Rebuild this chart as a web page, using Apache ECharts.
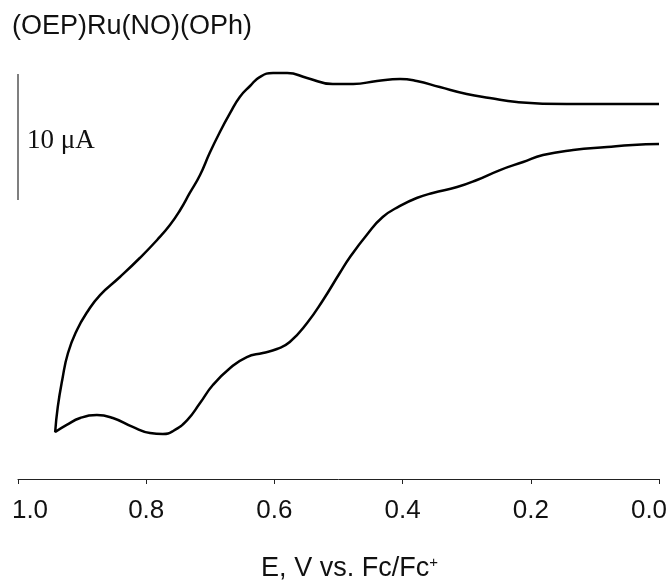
<!DOCTYPE html>
<html>
<head>
<meta charset="utf-8">
<script src="https://cdn.jsdelivr.net/npm/echarts@6/dist/echarts.min.js"></script>
<style>
  html, body { margin: 0; padding: 0; background: #fff; }
  #chart { width: 670px; height: 580px; }
</style>
</head>
<body>
<div id="chart"></div>
<script>
// E (V vs Fc/Fc+) and current (uA)
// sweep from 0.0 V towards the vertex
const forwardE = [0.00, 0.144, 0.222, 0.264, 0.300, 0.342, 0.378, 0.404, 0.440, 0.477, 0.509,
  0.549, 0.580, 0.602, 0.623, 0.638, 0.654, 0.669, 0.685, 0.701, 0.716, 0.732, 0.747,
  0.763, 0.783, 0.810, 0.841, 0.872, 0.892, 0.908, 0.922, 0.931, 0.938, 0.942]
const forwardI = [29.76, 29.76, 29.92, 30.24, 30.56, 31.11, 31.59, 31.75, 31.59, 31.35, 31.35,
  31.83, 32.22, 32.22, 31.90, 31.19, 30.32, 29.05, 27.54, 25.87, 24.13, 22.70, 21.35,
  20.16, 18.97, 17.54, 16.03, 14.60, 13.25, 11.83, 10.00, 7.86, 5.71, 3.73]
// return sweep back to 0.0 V
const reverseE = [0.924, 0.903, 0.877, 0.852, 0.821, 0.794, 0.774, 0.758, 0.736, 0.716, 0.696,
  0.669, 0.643, 0.618, 0.596, 0.576, 0.549, 0.524, 0.498, 0.482, 0.456, 0.431, 0.404,
  0.378, 0.353, 0.315, 0.284, 0.248, 0.212, 0.181, 0.134, 0.081, 0.041, 0.00]
const reverseI = [4.29, 4.84, 5.08, 4.84, 4.13, 3.65, 3.57, 3.81, 4.68, 6.03, 7.46,
  8.81, 9.68, 10.00, 10.32, 10.87, 12.38, 14.21, 16.35, 17.62, 19.37, 20.79, 21.67,
  22.30, 22.70, 23.17, 23.73, 24.52, 25.16, 25.71, 26.11, 26.35, 26.51, 26.59]
// scale bar: 10 uA
const scaleBarE = [1.0, 1.0]
const scaleBarI = [22.14, 32.14]
const tickLabels = ['0.0', '0.2', '0.4', '0.6', '0.8', '1.0']

const cv = forwardE.map((e, i) => [e, forwardI[i]])
  .concat(reverseE.map((e, i) => [e, reverseI[i]]))
const bar = scaleBarE.map((e, i) => [e, scaleBarI[i]])

const chart = echarts.init(document.getElementById('chart'))
chart.setOption({
  animation: false,
  backgroundColor: '#fff',
  title: {
    text: '(OEP)Ru(NO)(OPh)',
    left: 12,
    top: 13,
    padding: 0,
    textStyle: {
      fontFamily: 'Liberation Sans',
      fontWeight: 'normal',
      fontSize: 27,
      color: '#111'
    }
  },
  grid: {
    left: 18,
    right: 11,
    top: 38,
    bottom: 101,
    outerBoundsMode: 'none'
  },
  graphic: [{
    type: 'text',
    left: 27,
    top: 127,
    style: {
      text: '10 μA',
      fontFamily: 'Liberation Serif',
      fontSize: 27,
      fill: '#111'
    }
  }],
  xAxis: {
    type: 'value',
    inverse: true,
    min: 0,
    max: 1,
    interval: 0.2,
    name: 'E, V vs. Fc/Fc{sup|+}',
    nameLocation: 'middle',
    nameGap: 76,
    nameTextStyle: {
      fontFamily: 'Liberation Sans',
      fontSize: 27,
      color: '#111',
      padding: [0, 0, 0, 22],
      rich: {
        sup: { fontSize: 15, verticalAlign: 'top', lineHeight: 27, fontFamily: 'Liberation Sans', color: '#111' }
      }
    },
    axisLine: { lineStyle: { color: '#222', width: 1 } },
    axisTick: { length: 5, lineStyle: { color: '#222' } },
    splitLine: { show: false },
    axisLabel: {
      margin: 19,
      fontFamily: 'Liberation Sans',
      fontSize: 26,
      color: '#111',
      formatter: function (v) {
        const s = tickLabels[Math.round(v * 5)]
        if (v === 1) return '{l|' + s + '}'
        if (v === 0) return '{r|' + s + '}'
        return s
      },
      rich: {
        l: { padding: [0, 0, 0, 24], fontSize: 26, fontFamily: 'Liberation Sans', color: '#111' },
        r: { padding: [0, 20, 0, 0], fontSize: 26, fontFamily: 'Liberation Sans', color: '#111' }
      }
    }
  },
  yAxis: {
    type: 'value',
    min: 0,
    max: 35,
    show: false
  },
  series: [
    {
      name: 'CV',
      type: 'line',
      data: cv,
      smooth: 0.5,
      symbol: 'none',
      lineStyle: { color: '#000', width: 2.5 }
    },
    {
      name: 'scale',
      type: 'line',
      data: bar,
      symbol: 'none',
      lineStyle: { color: '#555', width: 1.5 }
    }
  ]
})
</script>
</body>
</html>
